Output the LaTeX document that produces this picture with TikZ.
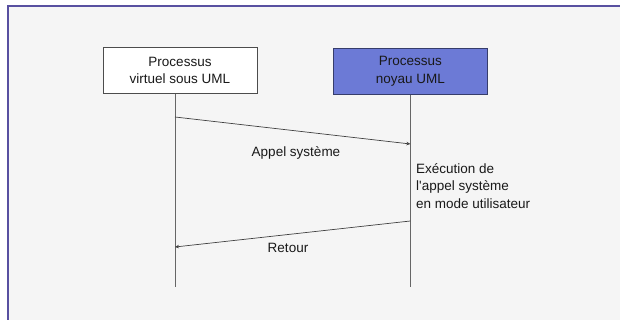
\documentclass[tikz,border=0pt]{standalone}
\usepackage{fontspec}
\setmainfont{Liberation Sans}
\usetikzlibrary{positioning,arrows.meta,calc}
\definecolor{framecol}{RGB}{88,80,160}
\definecolor{noyaublue}{RGB}{108,122,214}
\definecolor{pagegray}{RGB}{245,245,245}
\begin{document}
\begin{tikzpicture}[
  x=1pt,y=1pt,
  >={Stealth[length=4pt,width=3.5pt]},
  proc/.style={draw=black!70,minimum width=154pt,minimum height=46pt,
               align=center,inner sep=2pt},
  life/.style={draw=black!60,line width=0.6pt},
  msg/.style={draw=black!75,line width=0.7pt,->},
  every node/.style={font=\fontsize{13.5}{17.5}\selectfont,text=black!90}
]
\useasboundingbox (0,0) rectangle (620,320);
% page behind the figure
\fill[pagegray] (8,0) rectangle (620,314);
\draw[framecol,line width=1.6pt] (8,0) -- (8,314) -- (620,314);

\node[proc,fill=white] (virtuel) at (180,249.5) {Processus\\virtuel sous UML};
\node[proc,fill=noyaublue,draw=noyaublue!50!black,right=76pt of virtuel,
      yshift=-1pt] (noyau) {Processus\\noyau UML};

% lifelines
\coordinate (virtuelTop) at ($(virtuel.south)+(-5,0)$);
\coordinate (virtuelEnd) at (virtuelTop |- 0,33);
\coordinate (noyauEnd) at (noyau.south |- 0,33);
\draw[life] (virtuelTop) -- (virtuelEnd);
\draw[life] (noyau.south) -- (noyauEnd);

% messages
\coordinate (appelA) at (virtuelTop |- 0,203);
\coordinate (appelB) at (noyau.south |- 0,176);
\coordinate (retourA) at (noyau.south |- 0,99);
\coordinate (retourB) at (virtuelTop |- 0,73);
\draw[msg] (appelA) -- (appelB);
\draw[msg] (retourA) -- (retourB);

\node (appel) at (296,167) {Appel système};
\node (retour) at (288,72) {Retour};
\node[anchor=west,align=left,inner sep=0pt] (exec) at (416,134)
  {Exécution de\\l\textquotesingle appel système\\en mode utilisateur};
\end{tikzpicture}
\end{document}
